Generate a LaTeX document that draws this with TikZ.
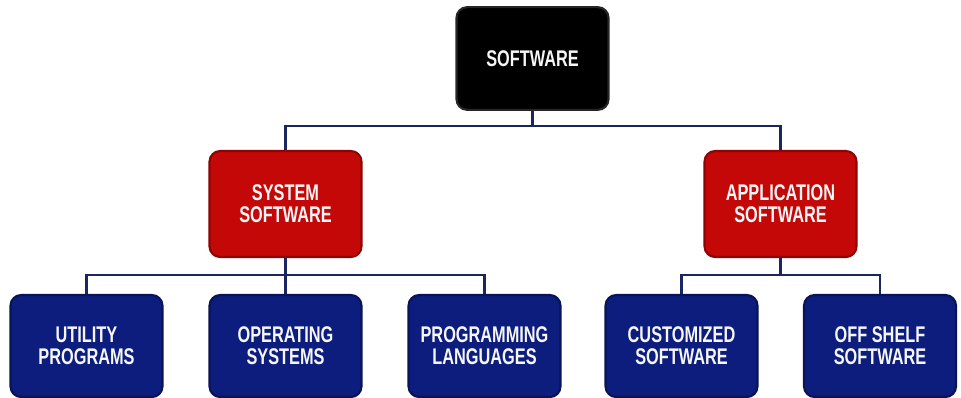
\documentclass[tikz,border=0pt]{standalone}
\usepackage{fontspec}
\newfontfamily\boxfont[FakeStretch=0.72]{Liberation Sans}
\definecolor{navyline}{HTML}{1A2660}
\definecolor{boxred}{HTML}{C40808}
\definecolor{boxredrim}{HTML}{8E0303}
\definecolor{boxnavy}{HTML}{0C1D7E}
\definecolor{boxnavyrim}{HTML}{081456}

\begin{document}
\begin{tikzpicture}[x=0.75pt,y=-0.75pt,
  box/.style={rectangle,rounded corners=8pt,minimum width=114pt,align=center,
    line width=1.6pt,text=white!93!gray,
    font=\boxfont\bfseries\fontsize{17}{16.5}\selectfont},
  topbox/.style={box,minimum height=77pt,fill=black,draw=black!85},
  midbox/.style={box,minimum height=79.5pt,draw=boxredrim,fill=boxred},
  lowbox/.style={box,minimum height=76.5pt,draw=boxnavyrim,fill=boxnavy},
  link/.style={draw=navyline,line width=2pt}]

\useasboundingbox (0,0) rectangle (961,397);

\node[topbox] (sw) at (532.5,58.5) {SOFTWARE};

\node[midbox] (sys) at (285.5,204) {SYSTEM\\SOFTWARE};
\node[midbox] (app) at (780.5,204) {APPLICATION\\SOFTWARE};

\node[lowbox] (util) at (86.5,346) {UTILITY\\PROGRAMS};
\node[lowbox] (os)   at (285.5,346) {OPERATING\\SYSTEMS};
\node[lowbox] (prog) at (484.5,346) {PROGRAMMING\\LANGUAGES};
\node[lowbox] (cust) at (681.5,346) {CUSTOMIZED\\SOFTWARE};
\node[lowbox] (off)  at (880,346) {OFF SHELF\\SOFTWARE};

% buses
\coordinate (busA) at (532.5,126);
\coordinate (busB) at (285.5,275);
\coordinate (busC) at (780.5,275);

\draw[link] (sw.south) -- (busA);
\draw[link] (busA) -| (sys.north);
\draw[link] (busA) -| (app.north);

\draw[link] (sys.south) -- (busB);
\foreach \n in {util,os,prog}
  \draw[link] (busB) -| (\n.north);

\draw[link] (app.south) -- (busC);
\foreach \n in {cust,off}
  \draw[link] (busC) -| (\n.north);

\end{tikzpicture}
\end{document}
